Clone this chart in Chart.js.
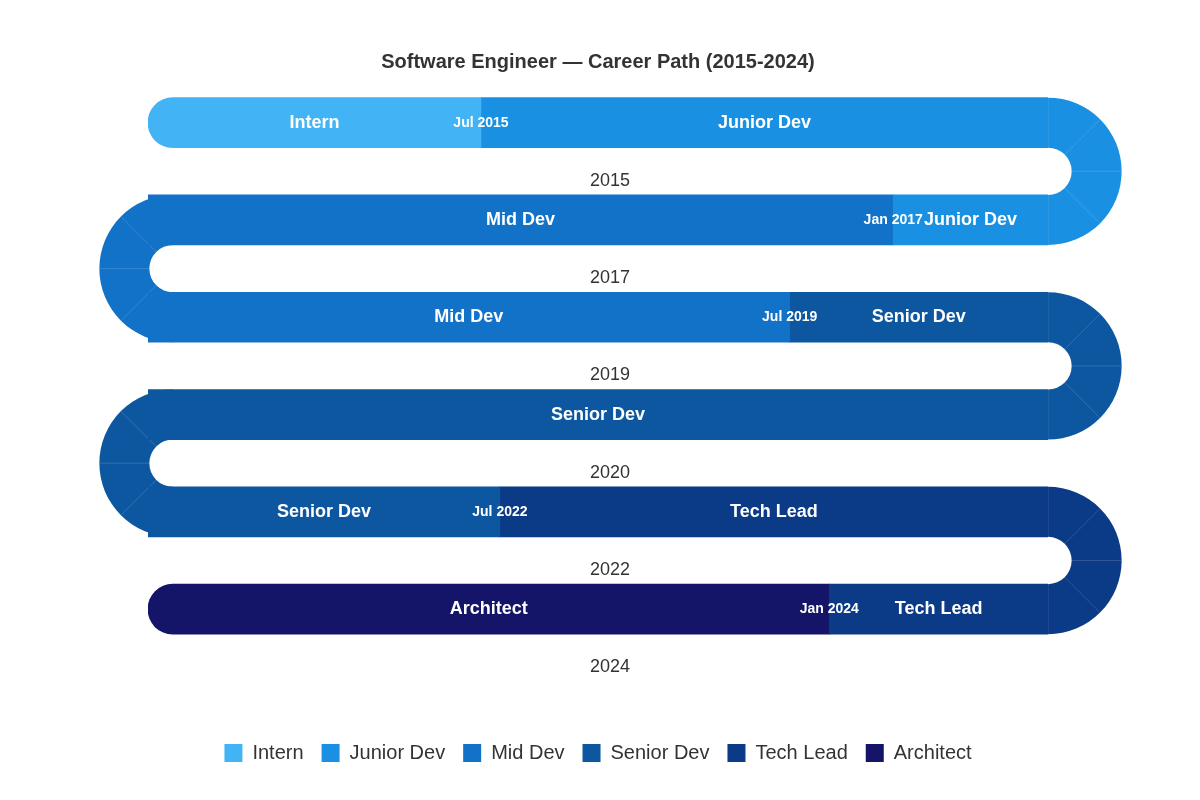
<!DOCTYPE html>
<html>
<head>
<meta charset="utf-8">
<script src="https://cdn.jsdelivr.net/npm/chart.js@4/dist/chart.umd.min.js"></script>
<style>
  html, body { margin: 0; padding: 0; background: #fff; }
  #wrap { width: 1200px; height: 800px; }
</style>
</head>
<body>
<div id="wrap"><canvas id="chart"></canvas></div>
<script>
// rows of the serpentine (top to bottom), positions in % of the row width
const rows = ["r0", "r1", "r2", "r3", "r4", "r5"];
const rowYears = ["2015", "2017", "2019", "2020", "2022", "2024"];
const roles = ["Intern", "Junior Dev", "Mid Dev", "Senior Dev", "Tech Lead", "Architect"];
const roleColors = ["#42b4f5", "#1a90e2", "#1272c7", "#0d57a0", "#0b3a86", "#141468"];

// segment [start, end] per row for each role
const internData    = [[0, 37], null, null, null, null, null];
const juniorData    = [[37, 100], [82.8, 100], null, null, null, null];
const midData       = [null, [0, 82.8], [0, 71.3], null, null, null];
const seniorData    = [null, null, [71.3, 100], [0, 100], [0, 39.1], null];
const techLeadData  = [null, null, null, null, [39.1, 100], [75.7, 100]];
const architectData = [null, null, null, null, null, [0, 75.7]];

// role changes: row, position, label
const changeRows = [0, 1, 2, 4, 5];
const changeAt = [37, 82.8, 71.3, 39.1, 75.7];
const changeLabels = ["Jul 2015", "Jan 2017", "Jul 2019", "Jul 2022", "Jan 2024"];

// role of each U-turn between row i and i+1
const turnRoles = ["Junior Dev", "Mid Dev", "Senior Dev", "Senior Dev", "Tech Lead"];

const allData = [internData, juniorData, midData, seniorData, techLeadData, architectData];

const datasets = roles.map((role, i) => ({
    label: role,
    data: allData[i],
    backgroundColor: roleColors[i],
    borderWidth: 0,
    borderSkipped: false,
    grouped: false,
    barThickness: 50,
    borderRadius: ctx => {
        const v = ctx.raw;
        if (v && v[0] === 0 && (ctx.dataIndex === 0 || ctx.dataIndex === rows.length - 1)) {
            return { topLeft: 25, bottomLeft: 25, topRight: 0, bottomRight: 0 };
        }
        return 0;
    }
}));

const serpentine = {
    id: "serpentine",
    beforeDatasetsDraw(chart) {
        const { ctx, chartArea, scales } = chart;
        const y = scales.y;
        ctx.save();
        turnRoles.forEach((role, i) => {
            const y0 = y.getPixelForValue(i);
            const y1 = y.getPixelForValue(i + 1);
            const cy = (y0 + y1) / 2;
            const half = (y1 - y0) / 2;
            const rOut = half + 25, rIn = half - 25;
            const right = i % 2 === 0;
            const cx = right ? chartArea.right : chartArea.left + 25;
            const a0 = right ? -Math.PI / 2 : Math.PI / 2;
            const a1 = right ? Math.PI / 2 : Math.PI * 1.5;
            ctx.fillStyle = roleColors[roles.indexOf(role)];
            ctx.beginPath();
            ctx.arc(cx, cy, rOut, a0, a1);
            ctx.arc(cx, cy, rIn, a1, a0, true);
            ctx.closePath();
            ctx.fill();
            // faint segment lines
            ctx.strokeStyle = "rgba(255,255,255,0.15)";
            ctx.lineWidth = 1;
            for (let k = 0; k <= 4; k++) {
                const a = a0 + k * Math.PI / 4;
                ctx.beginPath();
                ctx.moveTo(cx + Math.cos(a) * rIn, cy + Math.sin(a) * rIn);
                ctx.lineTo(cx + Math.cos(a) * rOut, cy + Math.sin(a) * rOut);
                ctx.stroke();
            }
        });
        ctx.restore();
    },
    afterDatasetsDraw(chart) {
        const { ctx, chartArea, scales } = chart;
        const x = scales.x, y = scales.y;
        ctx.save();
        ctx.textAlign = "center";
        ctx.textBaseline = "middle";
        // role names
        ctx.fillStyle = "#fff";
        ctx.font = "bold 18px 'Liberation Sans', Arial, sans-serif";
        chart.data.datasets.forEach(ds => {
            ds.data.forEach((v, r) => {
                if (!v) return;
                const px = (x.getPixelForValue(v[0]) + x.getPixelForValue(v[1])) / 2;
                ctx.fillText(ds.label, px, y.getPixelForValue(r));
            });
        });
        // change dates
        ctx.font = "bold 14px 'Liberation Sans', Arial, sans-serif";
        changeRows.forEach((r, i) => {
            ctx.fillText(changeLabels[i], x.getPixelForValue(changeAt[i]), y.getPixelForValue(r));
        });
        // year under each row
        ctx.fillStyle = "#333";
        ctx.font = "18px 'Liberation Sans', Arial, sans-serif";
        const mid = (chartArea.left + chartArea.right) / 2 + 12;
        rowYears.forEach((yr, r) => {
            ctx.fillText(yr, mid, y.getPixelForValue(r) + 58);
        });
        ctx.restore();
    }
};

new Chart(document.getElementById("chart"), {
    type: "bar",
    data: { labels: rows, datasets: datasets },
    options: {
        indexAxis: "y",
        responsive: true,
        maintainAspectRatio: false,
        animation: false,
        layout: { padding: { left: 148, right: 152, top: 0, bottom: 27 } },
        scales: {
            x: { display: false, min: 0, max: 100 },
            y: { display: false }
        },
        plugins: {
            title: {
                display: true,
                text: "Software Engineer \u2014 Career Path (2015-2024)",
                color: "#333",
                font: { size: 20, weight: "bold", family: "'Liberation Sans', Arial, sans-serif" },
                padding: { top: 50, bottom: 0 }
            },
            legend: {
                position: "bottom",
                title: {
                    display: true,
                    text: " ",
                    font: { size: 1 },
                    padding: { top: 0, bottom: 66 }
                },
                labels: {
                    color: "#333",
                    boxWidth: 18,
                    boxHeight: 18,
                    padding: 18,
                    font: { size: 20, family: "'Liberation Sans', Arial, sans-serif" }
                }
            },
            tooltip: { enabled: false }
        }
    },
    plugins: [serpentine]
});
</script>
</body>
</html>
